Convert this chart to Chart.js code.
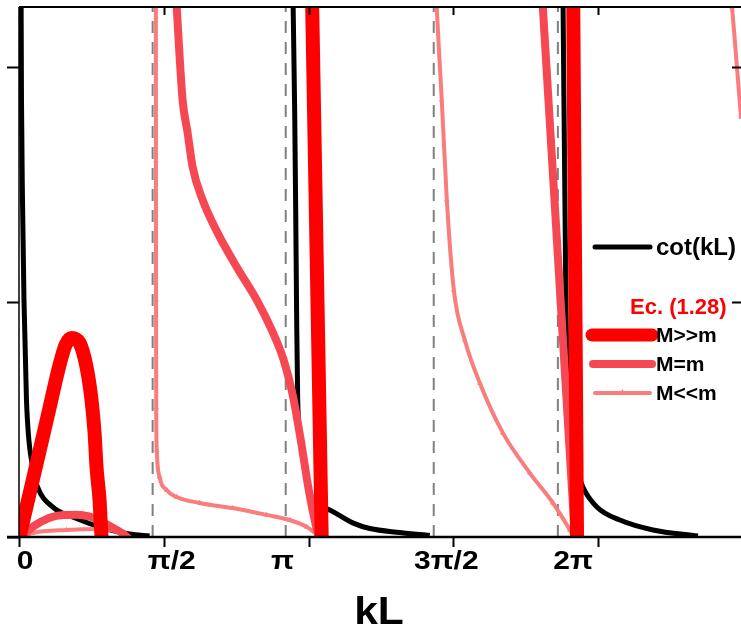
<!DOCTYPE html>
<html>
<head>
<meta charset="utf-8">
<title>cot(kL)</title>
<script src="https://cdn.jsdelivr.net/npm/chart.js@4/dist/chart.umd.min.js"></script>
<style>
  html, body { margin: 0; padding: 0; background: #fff; }
</style>
</head>
<body>
<canvas id="mycanvas" width="741" height="630"></canvas>
<script>
// kL on x, value on y; each branch is a list of [kL, value] pairs
var cotA = [[0.022,2.37],[0.027,1.86],[0.038,1.434],[0.054,1.009],[0.081,0.583],[0.147,0.298],[0.201,0.213],[0.364,0.128],[0.581,0.085],[0.983,0.030],[1.2,0.013],[1.417,0.004]];
var cotB = [[2.970,2.37],[2.991,1.821],[3.002,1.404],[3.013,0.923],[3.024,0.583],[3.067,0.370],[3.122,0.243],[3.187,0.157],[3.285,0.128],[3.371,0.115],[3.621,0.060],[3.806,0.036],[4.132,0.019],[4.457,0.006]];
var cotC = [[5.901,2.37],[5.934,1.009],[5.956,0.583],[6.031,0.349],[6.074,0.264],[6.118,0.213],[6.270,0.128],[6.520,0.072],[6.878,0.030],[7.367,0.004]];

var heavyA = [[-0.02,-0.04],[0.114,0.183],[0.223,0.366],[0.331,0.549],[0.440,0.732],[0.505,0.817],[0.570,0.847],[0.657,0.826],[0.733,0.723],[0.787,0.583],[0.820,0.443],[0.841,0.298],[0.874,0.157],[0.896,0.0],[0.912,-0.034]];
var heavyB = [[3.176,2.37],[3.287,-0.055]];
var heavyC = [[6.012,2.37],[6.056,-0.055]];

var equalA = [[-0.01,-0.01],[0.147,0.043],[0.331,0.082],[0.48,0.094],[0.624,0.095],[0.76,0.088],[0.874,0.070],[1.059,0.030],[1.167,0.002],[1.2,-0.02]];
var equalB = [[1.694,2.37],[1.775,1.86],[1.830,1.719],[1.884,1.574],[1.992,1.434],[2.155,1.294],[2.362,1.149],[2.579,1.009],[2.742,0.881],[2.872,0.753],[2.970,0.604],[3.057,0.413],[3.144,0.200],[3.220,0.051],[3.274,-0.03]];
var equalC = [[5.666,2.37],[6.039,-0.05]];

var lightA = [[-0.01,-0.005],[0.147,0.017],[0.516,0.030],[0.874,0.034],[1.091,0.021],[1.2,0.0],[1.22,-0.01]];
var lightB = [[1.485,2.37],[1.486,1.60],[1.487,1.009],[1.489,0.55],[1.495,0.37],[1.526,0.255],[1.601,0.200],[1.710,0.170],[1.960,0.145],[2.318,0.123],[2.687,0.094],[2.937,0.072],[3.122,0.043],[3.264,0.0]];
var lightC = [[4.522,2.37],[4.533,2.255],[4.587,1.860],[4.642,1.434],[4.718,1.051],[4.837,0.838],[5.000,0.655],[5.250,0.443],[5.543,0.272],[5.793,0.145],[5.977,0.030],[6.020,0.0]];
var lightD = [[7.704,2.37],[7.736,2.255],[7.790,2.0],[7.834,1.787],[7.88,1.60]];

var asymptotes = [1.450, 2.894, 4.500, 5.847];

var xTicks = [0, Math.PI / 2, Math.PI, 3 * Math.PI / 2, 2 * Math.PI];
var xTickLabels = ['0', 'π/2', 'π', '3π/2', '2π'];
var yTicks = [0, 1, 2];

var seriesNames = ['cot(kL)', 'M>>m', 'M=m', 'M<<m'];
var groupTitle = 'Ec. (1.28)';
var xTitle = 'kL';

var X_MAX = 7.834, Y_MAX = 2.255;
var FONT = '"Liberation Sans", Arial, sans-serif';

var styles = {
  cot:   { borderColor: '#000', borderWidth: 5, cubicInterpolationMode: 'monotone', order: 3 },
  heavy: { borderColor: '#ff0000', borderWidth: 14, cubicInterpolationMode: 'monotone', order: 0 },
  equal: { borderColor: 'rgb(246,72,82)', borderWidth: 8, cubicInterpolationMode: 'monotone', order: 1 },
  light: { borderColor: 'rgb(250,125,125)', borderWidth: 4, cubicInterpolationMode: 'monotone', order: 2,
           pointRadius: 2.5, pointStyle: 'triangle', pointBackgroundColor: 'rgb(250,125,125)',
           pointBorderColor: 'rgb(250,125,125)', pointBorderWidth: 1 }
};

function branch(name, points, style) {
  return Object.assign({
    label: name,
    data: points,
    fill: false,
    pointRadius: 0,
    borderJoinStyle: 'round',
    clip: 0
  }, style);
}

var datasets = [
  branch('M>>m', heavyA, styles.heavy),
  branch('M>>m', heavyB, styles.heavy),
  branch('M>>m', heavyC, styles.heavy),
  branch('M=m', equalA, styles.equal),
  branch('M=m', equalB, styles.equal),
  branch('M=m', equalC, styles.equal),
  branch('M<<m', lightA, styles.light),
  branch('M<<m', lightB, styles.light),
  branch('M<<m', lightC, styles.light),
  branch('M<<m', lightD, styles.light),
  branch('cot(kL)', cotA, styles.cot),
  branch('cot(kL)', cotB, styles.cot),
  branch('cot(kL)', cotC, styles.cot)
];

asymptotes.forEach(function (v) {
  datasets.push(branch('', [[v, 0], [v, Y_MAX]], {
    borderColor: '#808080', borderWidth: 2, borderDash: [12, 9], tension: 0, order: 5
  }));
});

function seg(ctx, x1, y1, x2, y2) {
  ctx.beginPath();
  ctx.moveTo(x1, y1);
  ctx.lineTo(x2, y2);
  ctx.stroke();
}

function stretchedText(ctx, text, cx, y, sx) {
  ctx.save();
  ctx.translate(cx, y);
  ctx.scale(sx, 1);
  ctx.textAlign = 'center';
  ctx.fillText(text, 0, 0);
  ctx.restore();
}

// box, ticks and axis labels
var axesFrame = {
  id: 'axesFrame',
  afterDatasetsDraw: function (chart, args, opts) {
    var ctx = chart.ctx, a = chart.chartArea;
    var xs = chart.scales.x, ys = chart.scales.y;
    ctx.save();
    ctx.strokeStyle = '#000';
    ctx.lineWidth = 2;
    seg(ctx, a.left, a.top, a.right, a.top);
    ctx.lineWidth = 1.5;
    seg(ctx, a.left, a.top, a.left, a.bottom);
    ctx.lineWidth = 2.5;
    seg(ctx, a.left - 12, a.bottom, a.right, a.bottom);

    ctx.lineWidth = 2;
    xTicks.forEach(function (v) {
      var px = Math.round(xs.getPixelForValue(v)) + 0.5;
      seg(ctx, px, a.bottom, px, a.bottom + 10);
      if (v > 0) seg(ctx, px, a.top, px, a.top + 8);
    });
    yTicks.forEach(function (v) {
      var py = Math.round(ys.getPixelForValue(v)) + 0.5;
      seg(ctx, a.left - 12, py, a.left, py);
      if (v > 0) seg(ctx, a.right - 9, py, a.right, py);
    });

    ctx.fillStyle = '#000';
    ctx.textBaseline = 'alphabetic';
    ctx.font = 'bold 25px ' + FONT;
    xTicks.forEach(function (v, i) {
      var px = xs.getPixelForValue(v) + opts.labelShift[i];
      stretchedText(ctx, xTickLabels[i], px, a.bottom + 32, 1.2);
    });

    ctx.font = 'bold 38px ' + FONT;
    stretchedText(ctx, xTitle, (a.left + a.right) / 2 - 1, a.bottom + 87, 1.12);
    ctx.restore();
  }
};

// legend placed inside the plot, right side
var innerLegend = {
  id: 'innerLegend',
  afterDraw: function (chart, args, opts) {
    var ctx = chart.ctx;
    var rows = [
      { name: seriesNames[0], st: styles.cot, y: 247, x1: 595, x2: 650, font: 'bold 24px ' },
      { name: seriesNames[1], st: styles.heavy, y: 335, x1: 592, x2: 652, font: 'bold 21px ' },
      { name: seriesNames[2], st: styles.equal, y: 364, x1: 593, x2: 652, font: 'bold 21px ' },
      { name: seriesNames[3], st: styles.light, y: 393, x1: 595, x2: 650, font: 'bold 21px ' }
    ];
    ctx.save();
    ctx.textBaseline = 'middle';
    ctx.textAlign = 'left';
    rows.forEach(function (r) {
      ctx.strokeStyle = r.st.borderColor;
      ctx.lineWidth = Math.min(r.st.borderWidth, 13);
      ctx.lineCap = 'round';
      seg(ctx, r.x1, r.y, r.x2, r.y);
      if (r.st.pointStyle === 'triangle') {
        var mx = (r.x1 + r.x2) / 2;
        ctx.fillStyle = r.st.borderColor;
        ctx.beginPath();
        ctx.moveTo(mx, r.y - 4);
        ctx.lineTo(mx + 3.5, r.y + 2);
        ctx.lineTo(mx - 3.5, r.y + 2);
        ctx.closePath();
        ctx.fill();
      }
      ctx.fillStyle = '#000';
      ctx.font = r.font + FONT;
      ctx.fillText(r.name, 656, r.y + 1);
    });
    ctx.fillStyle = '#ff0000';
    ctx.font = 'bold 22px ' + FONT;
    ctx.fillText(groupTitle, 630, 308);
    ctx.restore();
  }
};

var ctx = document.getElementById('mycanvas');
var chart = new Chart(ctx, {
  type: 'line',
  data: { datasets: datasets },
  options: {
    responsive: false,
    animation: false,
    events: [],
    layout: { autoPadding: false, padding: { left: 19, right: 0, top: 7, bottom: 93 } },
    scales: {
      x: { type: 'linear', min: 0, max: X_MAX, display: false },
      y: { type: 'linear', min: 0, max: Y_MAX, display: false }
    },
    plugins: {
      legend: { display: false },
      tooltip: { enabled: false },
      axesFrame: { labelShift: [6, 8, -26, -7, -25] }
    }
  },
  plugins: [axesFrame, innerLegend]
});
</script>
</body>
</html>
